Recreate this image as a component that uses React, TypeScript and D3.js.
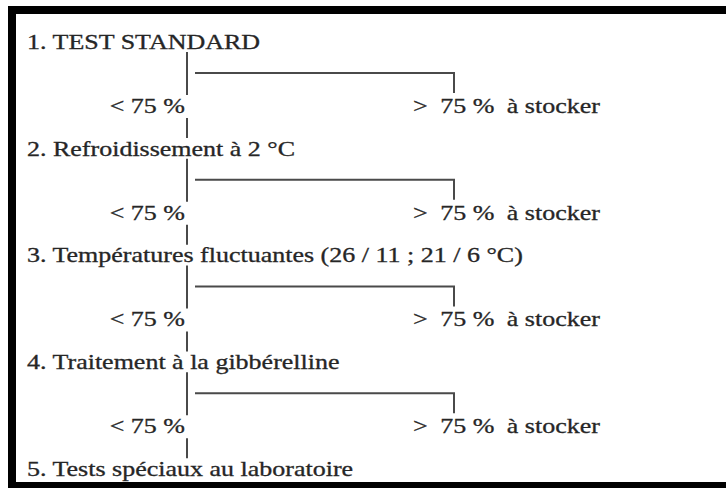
import React from "react";
import * as d3 from "d3";

const stepTitles: string[] = [
  "1. TEST STANDARD",
  "2. Refroidissement à 2 °C",
  "3. Températures fluctuantes (26 / 11 ; 21 / 6 °C)",
  "4. Traitement à la gibbérelline",
  "5. Tests spéciaux au laboratoire",
];
const lowLabel = "< 75 %";
const highLabelParts: string[] = [">", "75 %", "à stocker"];

const W = 726;
const H = 488;
const SX = 1.3; // horizontal stretch of the text

export default function App() {
  const y = d3.scaleLinear().domain([0, stepTitles.length - 1]).range([49, 476]);
  const x = d3.scaleLinear().domain([0, 1]).range([195, 454]); // bracket span
  const trunkX = 187;
  const titleX = 27;
  const lowRight = 185;
  const highLeft = 413;
  const partGap = 6; // extra gap between label parts, in px
  const textFill = "#262626";
  const lineStroke = "#4a4a4a";
  const font = "'Liberation Serif', 'Times New Roman', serif";

  const branches = stepTitles.slice(0, -1);

  return (
    <svg
      width={W}
      height={H}
      style={{ position: "fixed", left: 0, top: 0, display: "block" }}
    >
      <rect x={0} y={0} width={W} height={H} fill="#fff" />
      <rect x={8} y={6} width={W - 8} height={H - 6} fill="#000" />
      <rect x={16} y={14} width={W - 16} height={482 - 14} fill="#fff" />

      {branches.map((_, i) => {
        const t = y(i);
        const path = d3.path();
        path.moveTo(x(0), t + 24);
        path.lineTo(x(1), t + 24);
        path.lineTo(x(1), t + 44);
        return (
          <g key={"b" + i} stroke={lineStroke} strokeWidth={2} fill="none">
            <line x1={trunkX} x2={trunkX} y1={t + 3} y2={t + 46} />
            <line x1={trunkX} x2={trunkX} y1={t + 69} y2={t + 89} />
            <path d={path.toString()} />
          </g>
        );
      })}

      <g
        transform={`scale(${SX},1)`}
        fontFamily={font}
        fontSize={20}
        fill={textFill}
        stroke={textFill}
        strokeWidth={0.3}
      >
        {stepTitles.map((s, i) => (
          <text key={"t" + i} x={titleX / SX} y={y(i)}>
            {s}
          </text>
        ))}
        {branches.map((_, i) => (
          <g key={"l" + i}>
            <text x={lowRight / SX} y={y(i) + 64} textAnchor="end">
              {lowLabel}
            </text>
            <text x={highLeft / SX} y={y(i) + 64}>
              {highLabelParts.map((p, k) => (
                <tspan key={k} dx={k === 0 ? 0 : partGap / SX}>
                  {(k === 0 ? "" : " ") + p}
                </tspan>
              ))}
            </text>
          </g>
        ))}
      </g>
    </svg>
  );
}
